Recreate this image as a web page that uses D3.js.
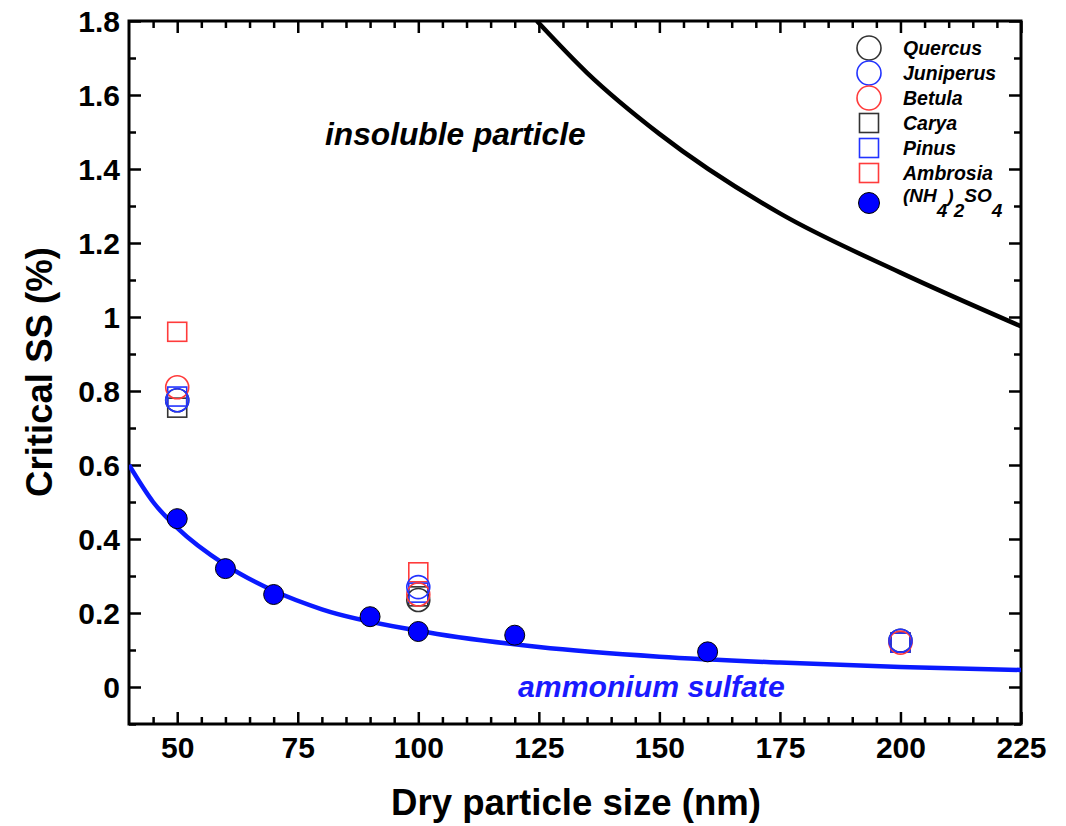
<!DOCTYPE html>
<html>
<head>
<meta charset="utf-8">
<script src="https://cdn.jsdelivr.net/npm/d3@7"></script>
<style>
  body { margin: 0; background: #fff; }
  text { font-family: "Liberation Sans", Arial, sans-serif; font-weight: bold; }
</style>
</head>
<body>
<svg id="chart" width="1066" height="826"></svg>
<script>
// Data
const quercus   = [[50, 0.775], [100, 0.235], [200, 0.125]];
const juniperus = [[50, 0.775], [100, 0.27],  [200, 0.125]];
const betula    = [[50, 0.81],  [100, 0.25],  [200, 0.12]];
const carya     = [[50, 0.755], [100, 0.245], [200, 0.12]];
const pinus     = [[50, 0.785], [100, 0.255], [200, 0.12]];
const ambrosia  = [[50, 0.96],  [100, 0.31],  [200, 0.12]];

const amSulfX = [50, 60, 70, 90, 100, 120, 160];
const amSulfY = [0.455, 0.32, 0.25, 0.19, 0.15, 0.14, 0.095];

// theory curves (estimated from the drawn lines)
const amCurveX = [40, 45, 50, 60, 70, 80, 100, 125, 150, 175, 200, 225];
const amCurveY = [0.60, 0.50, 0.43, 0.33, 0.26, 0.21, 0.152, 0.108, 0.082, 0.066, 0.054, 0.046];
const insolX = [124.6, 135, 150, 175, 200, 225];
const insolY = [1.8, 1.66, 1.495, 1.28, 1.12, 0.975];

const xTicks = [50, 75, 100, 125, 150, 175, 200, 225];
const yTicks = [0, 0.2, 0.4, 0.6, 0.8, 1, 1.2, 1.4, 1.6, 1.8];

const legendNames = ["Quercus", "Juniperus", "Betula", "Carya", "Pinus", "Ambrosia"];
const legendColors = ["#333", "#2233ff", "#ff3b3b", "#333", "#2233ff", "#ff3b3b"];
const legendShapes = ["circle", "circle", "circle", "square", "square", "square"];

// Layout
const svg = d3.select("#chart");
const L = 129, R = 1021, T = 21, B = 724;

const x = d3.scaleLinear().domain([40, 225]).range([L, R]);
const y = d3.scaleLinear().domain([-0.1, 1.8]).range([B, T]);

svg.append("defs").append("clipPath").attr("id", "clip")
  .append("rect").attr("x", L).attr("y", T).attr("width", R - L).attr("height", B - T);

const g = svg.append("g");
const plot = svg.append("g");

// Axes with inward ticks (major + minor)
const xMinor = d3.range(45, 225, 5).filter(v => v % 25 !== 0);
const yMinor = d3.range(-0.1, 1.8, 0.1).map(v => +v.toFixed(1)).filter(v => Math.round(v * 10) % 2 !== 0);

function drawAxis(axis, pos) {
  const a = g.append("g").attr("transform", pos).call(axis);
  a.select(".domain").remove();
  a.selectAll("line").attr("stroke", "#000").attr("stroke-width", 2.5);
  return a;
}

// bottom
const xb = drawAxis(d3.axisBottom(x).tickValues(xTicks).tickSize(-12).tickPadding(13).tickFormat(d3.format("d")), `translate(0,${B})`);
xb.selectAll("text").attr("font-size", 30).attr("fill", "#000");
drawAxis(d3.axisBottom(x).tickValues(xMinor).tickSize(-7).tickFormat(""), `translate(0,${B})`);
// top
drawAxis(d3.axisTop(x).tickValues(xTicks).tickSize(-12).tickFormat(""), `translate(0,${T})`);
drawAxis(d3.axisTop(x).tickValues(xMinor).tickSize(-7).tickFormat(""), `translate(0,${T})`);
// left
const yl = drawAxis(d3.axisLeft(y).tickValues(yTicks).tickSize(-12).tickPadding(9).tickFormat(d => d3.format("~g")(d)), `translate(${L},0)`);
yl.selectAll("text").attr("font-size", 30).attr("fill", "#000").attr("dy", "0.36em");
drawAxis(d3.axisLeft(y).tickValues(yMinor).tickSize(-7).tickFormat(""), `translate(${L},0)`);
// right
drawAxis(d3.axisRight(y).tickValues(yTicks).tickSize(-12).tickFormat(""), `translate(${R},0)`);
drawAxis(d3.axisRight(y).tickValues(yMinor).tickSize(-7).tickFormat(""), `translate(${R},0)`);

// frame
g.append("rect").attr("x", L).attr("y", T).attr("width", R - L).attr("height", B - T)
  .attr("fill", "none").attr("stroke", "#000").attr("stroke-width", 3);

// curves
const line = d3.line().curve(d3.curveMonotoneX).x(d => x(d[0])).y(d => y(d[1]));
plot.append("path").datum(insolX.map((v, i) => [v, insolY[i]]))
  .attr("clip-path", "url(#clip)")
  .attr("d", line).attr("fill", "none").attr("stroke", "#000").attr("stroke-width", 4.5);
plot.append("path").datum(amCurveX.map((v, i) => [v, amCurveY[i]]))
  .attr("clip-path", "url(#clip)")
  .attr("d", line).attr("fill", "none").attr("stroke", "#0a1aff").attr("stroke-width", 4.5);

// filled ammonium sulfate points
plot.selectAll(".am").data(amSulfX.map((v, i) => [v, amSulfY[i]])).enter()
  .append("circle").attr("cx", d => x(d[0])).attr("cy", d => y(d[1])).attr("r", 10)
  .attr("fill", "#0000ff").attr("stroke", "#000").attr("stroke-width", 1);

// pollen markers
const series = [
  { data: ambrosia,  shape: "square", color: "#ff3b3b" },
  { data: carya,     shape: "square", color: "#333" },
  { data: pinus,     shape: "square", color: "#2233ff" },
  { data: quercus,   shape: "circle", color: "#333" },
  { data: betula,    shape: "circle", color: "#ff3b3b" },
  { data: juniperus, shape: "circle", color: "#2233ff" },
];

function marker(sel, shape, color, r) {
  if (shape === "circle") {
    sel.append("circle").attr("r", r);
  } else {
    sel.append("rect").attr("x", -9.5).attr("y", -9.5).attr("width", 19).attr("height", 19);
  }
  sel.selectAll("circle,rect").attr("fill", "none").attr("stroke", color).attr("stroke-width", 1.6);
}

series.forEach(s => {
  s.data.forEach(d => {
    const m = plot.append("g").attr("transform", `translate(${x(d[0])},${y(d[1])})`);
    marker(m, s.shape, s.color, 11.5);
  });
});

// legend
const lg = svg.append("g");
legendNames.forEach((name, i) => {
  const cy = 48 + i * 25;
  const m = lg.append("g").attr("transform", `translate(869,${cy})`);
  marker(m, legendShapes[i], legendColors[i], 12);
  lg.append("text").attr("x", 903).attr("y", cy + 7).attr("font-size", 19.5)
    .attr("font-style", "italic").text(name);
});
lg.append("circle").attr("cx", 869).attr("cy", 203).attr("r", 10.5)
  .attr("fill", "#0000ff").attr("stroke", "#000").attr("stroke-width", 1);
const nh = lg.append("text").attr("x", 903).attr("y", 202).attr("font-size", 19).attr("font-style", "italic");
nh.append("tspan").text("(NH");
nh.append("tspan").attr("dy", 15).text("4");
nh.append("tspan").attr("dy", -15).text(")");
nh.append("tspan").attr("dy", 15).text("2");
nh.append("tspan").attr("dy", -15).text("SO");
nh.append("tspan").attr("dy", 15).text("4");

// annotations
svg.append("text").attr("x", 325).attr("y", 145).attr("font-size", 31.7).attr("font-style", "italic")
  .text("insoluble particle");
svg.append("text").attr("x", 518).attr("y", 697).attr("font-size", 30.2).attr("font-style", "italic")
  .attr("fill", "#1a1aff").text("ammonium sulfate");

// axis titles
svg.append("text").attr("x", 576).attr("y", 815).attr("text-anchor", "middle")
  .attr("font-size", 36.6).text("Dry particle size (nm)");
svg.append("text").attr("transform", `translate(52,372) rotate(-90)`)
  .attr("text-anchor", "middle").attr("font-size", 36.6).text("Critical SS (%)");
</script>
</body>
</html>
